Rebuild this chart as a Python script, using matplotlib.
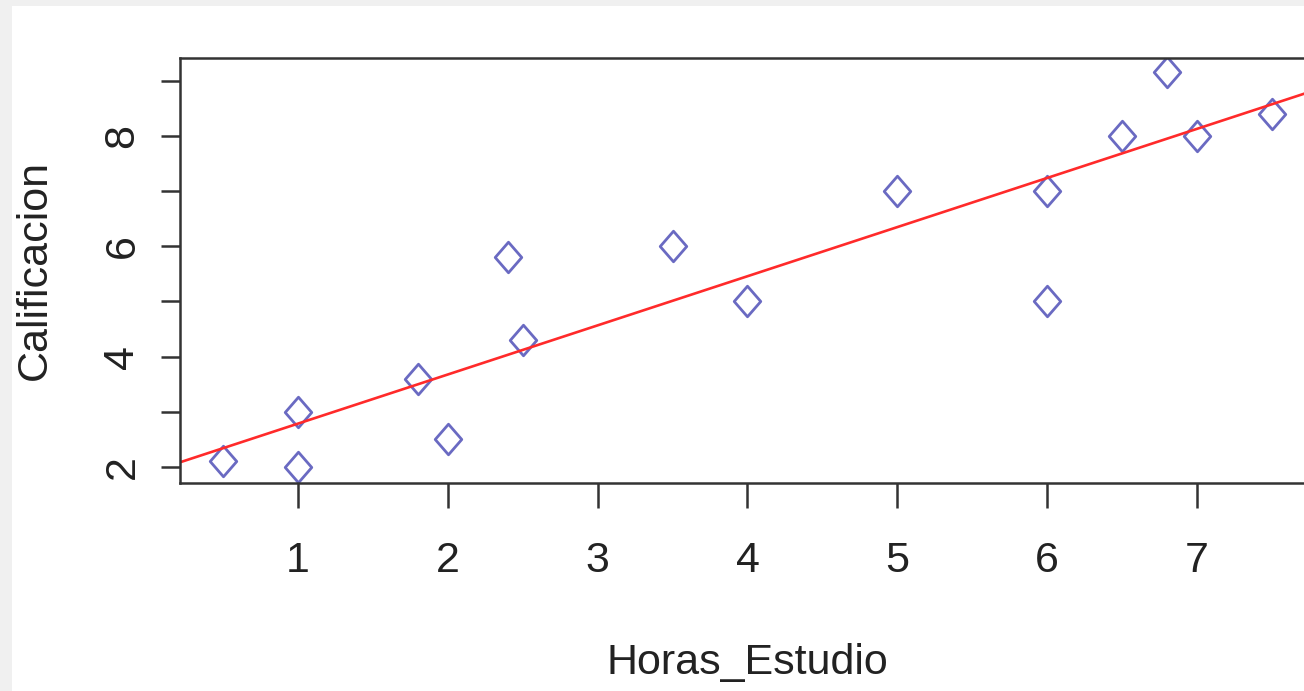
import numpy as np
import matplotlib.pyplot as plt
from matplotlib.patches import Rectangle
from matplotlib.path import Path

# Study hours vs. grade
horas = [0.5, 1, 1, 1.8, 2, 2.4, 2.5, 3.5, 4, 5, 6, 6, 6.5, 6.8, 7, 7.5]
calificacion = [2.1, 3, 2, 3.6, 2.5, 5.8, 4.3, 6, 5, 7, 7, 5, 8, 9.15, 8, 8.4]

x_ticks = [1, 2, 3, 4, 5, 6, 7]
y_ticks = [2, 3, 4, 5, 6, 7, 8, 9]
y_tick_labels = ['2', '', '4', '', '6', '', '8', '']

plt.rcParams['font.family'] = ['Liberation Sans Narrow', 'Liberation Sans', 'DejaVu Sans']

fig = plt.figure(figsize=(13.04, 6.91), dpi=100)
fig.patch.set_facecolor('#f0f0f0')
fig.patches.append(Rectangle((12 / 1304, 0), 1, 1 - 6 / 691, transform=fig.transFigure,
                             facecolor='white', edgecolor='none', zorder=-1))

ax = fig.add_axes([180 / 1304, 1 - 483 / 691, 1134 / 1304, 425 / 691])
ax.set_facecolor('white')

# open diamond marker, a bit taller than wide
diamond = Path([(0, -1.15), (1, 0), (0, 1.15), (-1, 0), (0, -1.15)],
               [Path.MOVETO, Path.LINETO, Path.LINETO, Path.LINETO, Path.CLOSEPOLY])
ax.plot(horas, calificacion, linestyle='none', marker=diamond, markersize=22,
        markerfacecolor='none', markeredgecolor='#6a6ac2', markeredgewidth=2.0)

# least squares line across the whole panel
b, a = np.polyfit(horas, calificacion, 1)
ax.axline((0, a), slope=b, color='#ff2a2a', linewidth=1.9)

ax.set_xlim(0.212, 7.782)
ax.set_ylim(1.71, 9.41)
ax.set_xticks(x_ticks)
ax.set_xticklabels([str(t) for t in x_ticks])
ax.set_yticks(y_ticks)
ax.set_yticklabels(y_tick_labels, rotation=90, va='center')

for s in ax.spines.values():
    s.set_color('#333333')
    s.set_linewidth(1.8)

ax.tick_params(axis='x', length=18, width=1.8, color='#333333', pad=24,
               labelsize=31, labelcolor='#222222')
ax.tick_params(axis='y', length=14, width=1.8, color='#333333', pad=13,
               labelsize=31, labelcolor='#222222')

ax.set_xlabel('Horas_Estudio', fontsize=31, color='#222222')
ax.xaxis.set_label_coords(0.5, -(663 - 483) / 425)
ax.xaxis.label.set_va('center')
ax.set_ylabel('Calificacion', fontsize=31, color='#222222')
ax.yaxis.set_label_coords((35 - 180) / 1134, 0.5)
ax.yaxis.label.set_va('center')

fig.savefig('out.png', dpi=100)
